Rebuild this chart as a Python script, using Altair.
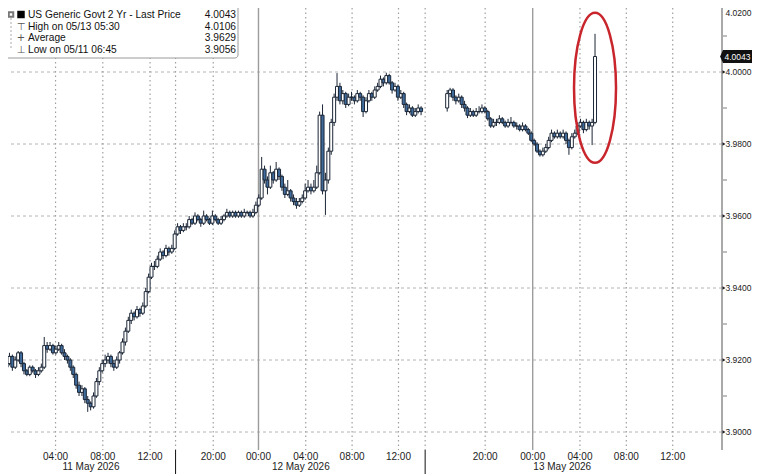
import altair as alt
import pandas as pd

# ---------------- data (15-minute candles, US 2Y yield) ----------------
seg1_open = [
    3.918, 3.919, 3.921, 3.918, 3.920, 3.922, 3.919, 3.917, 3.916, 3.918,
    3.917, 3.916, 3.917, 3.918, 3.924, 3.923, 3.924, 3.922, 3.923, 3.924,
    3.922, 3.921, 3.920, 3.918, 3.916, 3.913, 3.911, 3.912, 3.909, 3.908,
    3.907, 3.910, 3.914, 3.917, 3.919, 3.920, 3.921, 3.919, 3.918, 3.920,
    3.922, 3.925, 3.928, 3.931, 3.933, 3.932, 3.934, 3.933, 3.935, 3.939,
    3.943, 3.946, 3.946, 3.948, 3.950, 3.949, 3.951, 3.950, 3.951, 3.955,
    3.957, 3.956, 3.957, 3.957, 3.959, 3.958, 3.960, 3.959, 3.958, 3.960,
    3.959, 3.958, 3.960, 3.959, 3.958, 3.959, 3.960, 3.961, 3.960, 3.961,
    3.960, 3.961, 3.960, 3.961, 3.961, 3.960, 3.961, 3.963, 3.965, 3.973,
    3.970, 3.968, 3.972, 3.970, 3.973, 3.971, 3.968, 3.966, 3.967, 3.965,
    3.964, 3.963, 3.964, 3.965, 3.967, 3.968, 3.967, 3.968, 3.972, 3.988,
    3.967, 3.970, 3.978, 3.986, 3.993, 3.996, 3.992, 3.994, 3.991, 3.993,
    3.993, 3.992, 3.994, 3.993, 3.989, 3.992, 3.994, 3.993, 3.995, 3.996,
    3.998, 3.997, 3.999, 3.997, 3.995, 3.996, 3.993, 3.994, 3.991, 3.989,
    3.990, 3.988, 3.989, 3.990,
]
seg1_high = [
    3.920, 3.922, 3.9215, 3.921, 3.9225, 3.9225, 3.9195, 3.9175, 3.9185, 3.9185,
    3.9175, 3.918, 3.919, 3.9264, 3.925, 3.925, 3.9245, 3.924, 3.925, 3.9245,
    3.923, 3.9215, 3.9205, 3.9185, 3.9165, 3.914, 3.913, 3.9125, 3.910, 3.9085,
    3.911, 3.915, 3.918, 3.920, 3.9215, 3.922, 3.9215, 3.920, 3.921, 3.9225,
    3.926, 3.929, 3.932, 3.934, 3.9335, 3.935, 3.9345, 3.936, 3.940, 3.944,
    3.947, 3.9475, 3.949, 3.951, 3.9505, 3.952, 3.9515, 3.952, 3.956, 3.958,
    3.9575, 3.958, 3.958, 3.960, 3.9595, 3.961, 3.9605, 3.9595, 3.9615, 3.9605,
    3.9595, 3.9615, 3.9605, 3.9595, 3.960, 3.9605, 3.962, 3.9615, 3.9615, 3.9615,
    3.9615, 3.9615, 3.962, 3.9615, 3.9615, 3.962, 3.964, 3.966, 3.9764, 3.974,
    3.971, 3.974, 3.9725, 3.975, 3.9735, 3.9715, 3.969, 3.970, 3.9675, 3.966,
    3.965, 3.965, 3.966, 3.969, 3.970, 3.969, 3.970, 3.974, 3.989, 3.991,
    3.972, 3.979, 3.987, 3.994, 3.9997, 3.997, 3.995, 3.9945, 3.994, 3.9945,
    3.9935, 3.995, 3.9945, 3.9935, 3.993, 3.995, 3.9945, 3.996, 3.997, 3.999,
    3.9985, 3.9998, 3.9995, 3.9975, 3.997, 3.9965, 3.995, 3.9945, 3.9915, 3.991,
    3.9905, 3.990, 3.991, 3.9905,
]
seg1_low = [
    3.917, 3.9185, 3.917, 3.9175, 3.9195, 3.918, 3.916, 3.9155, 3.9155, 3.9165,
    3.915, 3.9155, 3.9165, 3.9175, 3.922, 3.9225, 3.9215, 3.9215, 3.9225, 3.9215,
    3.920, 3.919, 3.917, 3.915, 3.912, 3.910, 3.910, 3.908, 3.9056, 3.906,
    3.9065, 3.9095, 3.913, 3.9165, 3.918, 3.919, 3.918, 3.917, 3.9175, 3.919,
    3.9215, 3.924, 3.9275, 3.930, 3.931, 3.9315, 3.932, 3.9325, 3.9345, 3.9385,
    3.9425, 3.945, 3.9455, 3.9475, 3.948, 3.9485, 3.949, 3.9495, 3.9505, 3.9545,
    3.955, 3.9555, 3.956, 3.9565, 3.9575, 3.9575, 3.9585, 3.957, 3.9575, 3.9585,
    3.9575, 3.9575, 3.9585, 3.9575, 3.9575, 3.9585, 3.9595, 3.9595, 3.9595, 3.9595,
    3.9595, 3.9595, 3.9595, 3.9605, 3.9595, 3.9595, 3.9605, 3.9625, 3.9645, 3.969,
    3.966, 3.9675, 3.969, 3.9695, 3.970, 3.967, 3.965, 3.9655, 3.964, 3.963,
    3.962, 3.9625, 3.9635, 3.9645, 3.9665, 3.966, 3.9665, 3.9675, 3.9715, 3.966,
    3.9603, 3.969, 3.977, 3.985, 3.992, 3.991, 3.991, 3.990, 3.9905, 3.992,
    3.991, 3.9915, 3.992, 3.9875, 3.9885, 3.9915, 3.992, 3.9925, 3.9945, 3.9955,
    3.996, 3.9965, 3.9965, 3.994, 3.9945, 3.992, 3.9925, 3.990, 3.988, 3.9885,
    3.9875, 3.9875, 3.9885, 3.988,
]
seg1_close = [
    3.919, 3.921, 3.918, 3.920, 3.922, 3.919, 3.917, 3.916, 3.918, 3.917,
    3.916, 3.917, 3.918, 3.924, 3.923, 3.924, 3.922, 3.923, 3.924, 3.922,
    3.921, 3.920, 3.918, 3.916, 3.913, 3.911, 3.912, 3.909, 3.908, 3.907,
    3.910, 3.914, 3.917, 3.919, 3.920, 3.921, 3.919, 3.918, 3.920, 3.922,
    3.925, 3.928, 3.931, 3.933, 3.932, 3.934, 3.933, 3.935, 3.939, 3.943,
    3.946, 3.946, 3.948, 3.950, 3.949, 3.951, 3.950, 3.951, 3.955, 3.957,
    3.956, 3.957, 3.957, 3.959, 3.958, 3.960, 3.959, 3.958, 3.960, 3.959,
    3.958, 3.960, 3.959, 3.958, 3.959, 3.960, 3.961, 3.960, 3.961, 3.960,
    3.961, 3.960, 3.961, 3.961, 3.960, 3.961, 3.963, 3.965, 3.973, 3.970,
    3.968, 3.972, 3.970, 3.973, 3.971, 3.968, 3.966, 3.967, 3.965, 3.964,
    3.963, 3.964, 3.965, 3.967, 3.968, 3.967, 3.968, 3.972, 3.988, 3.967,
    3.970, 3.978, 3.986, 3.993, 3.996, 3.992, 3.994, 3.991, 3.993, 3.993,
    3.992, 3.994, 3.993, 3.989, 3.992, 3.994, 3.993, 3.995, 3.996, 3.998,
    3.997, 3.999, 3.997, 3.995, 3.996, 3.993, 3.994, 3.991, 3.989, 3.990,
    3.988, 3.989, 3.990, 3.989,
]

seg2_open = [
    3.990, 3.994, 3.995, 3.993, 3.992, 3.993, 3.991, 3.990, 3.988, 3.989,
    3.988, 3.989, 3.989, 3.990, 3.989, 3.987, 3.985, 3.986, 3.986, 3.987,
    3.986, 3.985, 3.986, 3.986, 3.985, 3.985, 3.984, 3.985, 3.984, 3.983,
    3.981, 3.980, 3.978, 3.977, 3.978, 3.979, 3.981, 3.983, 3.982, 3.983,
    3.982, 3.983, 3.981, 3.979, 3.982, 3.983, 3.985, 3.986, 3.984, 3.986,
    3.985, 3.986,
]
seg2_high = [
    3.995, 3.9956, 3.9955, 3.9935, 3.994, 3.9935, 3.992, 3.9905, 3.990, 3.9895,
    3.990, 3.9905, 3.991, 3.9905, 3.9895, 3.9875, 3.987, 3.987, 3.988, 3.9875,
    3.9865, 3.987, 3.9875, 3.9865, 3.986, 3.9855, 3.986, 3.9855, 3.9845, 3.9835,
    3.9815, 3.9805, 3.9785, 3.979, 3.980, 3.982, 3.984, 3.9835, 3.984, 3.9835,
    3.984, 3.9835, 3.9815, 3.983, 3.984, 3.986, 3.987, 3.9865, 3.987, 3.9865,
    3.987, 4.0106,
]
seg2_low = [
    3.989, 3.993, 3.992, 3.991, 3.9915, 3.990, 3.989, 3.9872, 3.9875, 3.9875,
    3.9875, 3.9885, 3.9885, 3.9885, 3.9865, 3.9845, 3.9845, 3.985, 3.9855, 3.9855,
    3.9845, 3.9845, 3.9855, 3.9845, 3.984, 3.9835, 3.9835, 3.9835, 3.9825, 3.9805,
    3.9795, 3.9775, 3.9765, 3.9765, 3.9775, 3.9785, 3.9805, 3.9815, 3.9815, 3.9815,
    3.9815, 3.980, 3.977, 3.9785, 3.9815, 3.9825, 3.9845, 3.983, 3.9835, 3.984,
    3.9797, 3.9855,
]
seg2_close = [
    3.994, 3.995, 3.993, 3.992, 3.993, 3.991, 3.990, 3.988, 3.989, 3.988,
    3.989, 3.989, 3.990, 3.989, 3.987, 3.985, 3.986, 3.986, 3.987, 3.986,
    3.985, 3.986, 3.986, 3.985, 3.985, 3.984, 3.985, 3.984, 3.983, 3.981,
    3.980, 3.978, 3.977, 3.978, 3.979, 3.981, 3.983, 3.982, 3.983, 3.982,
    3.983, 3.981, 3.979, 3.982, 3.983, 3.985, 3.986, 3.984, 3.986, 3.985,
    3.986, 4.0043,
]

# first 15-minute slot of each trading segment (compressed time axis)
seg1_start = 0
seg2_start = 152

# time axis (positions in 15-minute slots)
time_tick_slots = [17.4, 33.7, 50.0, 71.8, 87.4, 103.7, 119.7, 135.7, 165.6, 182.0, 198.3, 214.3, 230.3]
time_tick_labels = ["04:00", "08:00", "12:00", "20:00", "00:00", "04:00", "08:00", "12:00",
                    "20:00", "00:00", "04:00", "08:00", "12:00"]
midnight_slots = [87.4, 182.0]
day_sep_slots = [58.8, 144.9]
minor_tick_slots = [9.4, 25.6, 41.8, 67.0, 79.6, 95.6, 111.7, 127.7, 158.2, 174.0, 190.2, 206.3, 222.3, 238.3]
date_label_slots = [29.6, 102.0, 192.2]
date_labels = ["11 May 2026", "12 May 2026", "13 May 2026"]

y_grid_values = [3.90, 3.92, 3.94, 3.96, 3.98, 4.00]
y_label_texts = ["3.9000", "3.9200", "3.9400", "3.9600", "3.9800", "4.0000"]
y_minor_values = [3.91, 3.93, 3.95, 3.97, 3.99, 4.01]

legend_labels = ["US Generic Govt 2 Yr - Last Price", "High on 05/13 05:30", "Average", "Low on 05/11 06:45"]
legend_values = ["4.0043", "4.0106", "3.9629", "3.9056"]
legend_icons = ["", "\u22a4", "+", "\u22a5"]
last_price = 4.0043
top_label = "4.0200"

# highlight ellipse around the final spike (slot centre, yield centre)
ellipse_slot = 203.5
ellipse_yield = 3.9956

# ---------------- build frame ----------------
rows = []
for start, o_, h_, l_, c_ in [(seg1_start, seg1_open, seg1_high, seg1_low, seg1_close),
                              (seg2_start, seg2_open, seg2_high, seg2_low, seg2_close)]:
    for i in range(len(o_)):
        rows.append({"slot": start + i + 0.5, "open": o_[i], "high": h_[i], "low": l_[i],
                     "close": c_[i], "dir": "up" if c_[i] >= o_[i] else "down"})
df = pd.DataFrame(rows)

# ---------------- layout ----------------
W, H = 714, 442
PX_PER_SLOT = 2.94
x_dom = [8 / PX_PER_SLOT, 722 / PX_PER_SLOT]
y_dom = [3.895, 4.02 - 8 / 3600]
xs = alt.Scale(domain=x_dom, nice=False, zero=False)
ys = alt.Scale(domain=y_dom, nice=False, zero=False)
FONT = "Liberation Sans"
INK = "#1b2636"
YFS = 8.5


def X(field):
    return alt.X(field, type="quantitative", scale=xs, axis=None)


def Y(field):
    return alt.Y(field, type="quantitative", scale=ys, axis=None)


hgrid = alt.Chart(pd.DataFrame({"v": y_grid_values})).mark_rule(
    color="#b4b4b4", strokeDash=[3, 3], strokeWidth=1).encode(y=Y("v"))

vgrid = alt.Chart(pd.DataFrame({"s": [s for s in time_tick_slots if s not in midnight_slots] + day_sep_slots})).mark_rule(
    color="#a0a0a0", strokeDash=[1.5, 3], strokeWidth=1.2).encode(x=X("s"))

midnight = alt.Chart(pd.DataFrame({"s": midnight_slots})).mark_rule(
    color="#9c9c9c", strokeWidth=1.4).encode(x=X("s"))

wicks = alt.Chart(df).mark_rule(color=INK, strokeWidth=1).encode(
    x=alt.X("slot:Q", scale=xs, axis=alt.Axis(values=minor_tick_slots, labels=False, ticks=True, tickSize=4,
                                              tickColor="#333", domain=True, domainColor="#444", domainWidth=1,
                                              grid=False, title=None)),
    y=Y("low"),
    y2="high:Q",
)

bodies = alt.Chart(df).mark_bar(size=3.0, stroke=INK, strokeWidth=1.0).encode(
    x=X("slot"), y=Y("open"), y2="close",
    fill=alt.Fill("dir:N", scale=alt.Scale(domain=["up", "down"], range=["#ffffff", "#3f6c9c"]), legend=None),
)

ellipse = alt.Chart(pd.DataFrame({"s": [ellipse_slot], "v": [ellipse_yield]})).mark_point(
    shape="M -0.28 0 A 0.28 1 0 1 0 0.28 0 A 0.28 1 0 1 0 -0.28 0 Z",
    size=22500, filled=False, stroke="#c8262c", strokeWidth=2.5, opacity=1,
).encode(x=X("s"), y=Y("v"))

time_lbl = alt.Chart(pd.DataFrame({"s": time_tick_slots, "t": time_tick_labels})).mark_text(
    font=FONT, fontSize=10, color="#222", baseline="middle", align="center").encode(
    x=X("s"), y=alt.value(H + 6.5), text="t:N")

date_lbl = alt.Chart(pd.DataFrame({"s": date_label_slots, "t": date_labels})).mark_text(
    font=FONT, fontSize=10, color="#222", baseline="middle", align="center").encode(
    x=X("s"), y=alt.value(H + 17), text="t:N")

seps = alt.Chart(pd.DataFrame({"s": day_sep_slots})).mark_rule(color="#111", strokeWidth=1).encode(
    x=X("s"), y=alt.value(H), y2=alt.value(H + 24))

# right value axis
axis_line = alt.Chart(pd.DataFrame({"a": [0]})).mark_rule(color="#8c8c8c", strokeWidth=1.5).encode(
    x=alt.value(W), y=alt.value(0), y2=alt.value(H))

minor_ticks = alt.Chart(pd.DataFrame({"v": y_minor_values})).mark_tick(
    color="#444", size=4, thickness=1, orient="horizontal").encode(
    x=alt.value(W + 3), y=Y("v"))

tri = alt.Chart(pd.DataFrame({"v": y_grid_values})).mark_point(
    shape="triangle-right", filled=True, size=12, color="#222", opacity=1).encode(
    x=alt.value(W + 2), y=Y("v"))

y_lbl = alt.Chart(pd.DataFrame({"v": y_grid_values, "t": y_label_texts})).mark_text(
    font=FONT, fontSize=YFS, color="#222", align="left", baseline="middle").encode(
    x=alt.value(W + 3.5), y=Y("v"), text="t:N")

top_lbl = alt.Chart(pd.DataFrame({"a": [0]})).mark_text(
    font=FONT, fontSize=YFS, color="#222", align="left", baseline="top").encode(
    x=alt.value(W + 3.5), y=alt.value(0.5), text=alt.value(top_label))

tag = alt.Chart(pd.DataFrame({"v": [last_price]})).mark_point(
    shape="M -1.2 0 L -1 -0.45 L 1 -0.45 L 1 0.45 L -1 0.45 Z", size=841, filled=True,
    color="#111", opacity=1).encode(x=alt.value(W + 15.5), y=Y("v"))
tag_txt = alt.Chart(pd.DataFrame({"v": [last_price], "t": [legend_values[0]]})).mark_text(
    font=FONT, fontSize=YFS, color="#ffffff", align="center", baseline="middle").encode(
    x=alt.value(W + 15.5), y=Y("v"), text="t:N")

# legend box
one = pd.DataFrame({"a": [0]})
leg_layers = [
    alt.Chart(one).mark_rect(fill="#ffffff", stroke="#9a9a9a", strokeWidth=1, cornerRadius=3).encode(
        x=alt.value(-6), x2=alt.value(230), y=alt.value(-6), y2=alt.value(50)),
    alt.Chart(one).mark_square(size=56, color="#000", opacity=1).encode(x=alt.value(13), y=alt.value(6.5)),
    alt.Chart(one).mark_square(size=20, filled=False, color="#777", opacity=1).encode(x=alt.value(3), y=alt.value(6.5)),
    alt.Chart(one).mark_rule(color="#aaa", strokeDash=[2, 2]).encode(
        x=alt.value(3), y=alt.value(10), y2=alt.value(42)),
]
for i in range(len(legend_labels)):
    yy = 7 + 11.5 * i
    leg_layers.append(alt.Chart(one).mark_text(font=FONT, fontSize=10.2, color="#111", align="left",
                                               baseline="middle").encode(
        x=alt.value(20), y=alt.value(yy), text=alt.value(legend_labels[i])))
    leg_layers.append(alt.Chart(one).mark_text(font=FONT, fontSize=10.2, color="#111", align="right",
                                               baseline="middle").encode(
        x=alt.value(228), y=alt.value(yy), text=alt.value(legend_values[i])))
    if legend_icons[i]:
        leg_layers.append(alt.Chart(one).mark_text(font="DejaVu Sans", fontSize=10, color="#555",
                                                   align="center", baseline="middle").encode(
            x=alt.value(13), y=alt.value(yy), text=alt.value(legend_icons[i])))

chart = alt.layer(
    hgrid, vgrid, midnight, wicks, bodies, ellipse, time_lbl, date_lbl, seps,
    axis_line, minor_ticks, tri, y_lbl, top_lbl, tag, tag_txt,
    *leg_layers,
).properties(
    width=W, height=H, autosize="none",
    padding={"left": 0, "top": 0, "right": 30, "bottom": 24},
    background="#ffffff",
).configure_view(stroke=None)

chart.save("out.html", embed_options={"renderer": "svg", "actions": False})
